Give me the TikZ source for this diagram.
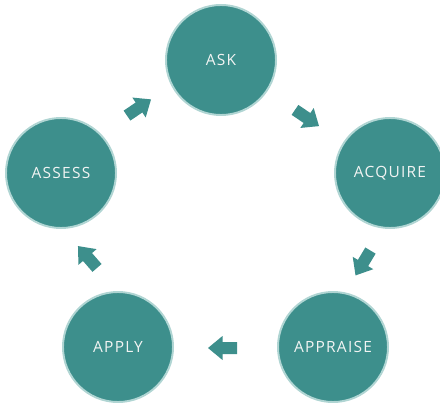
\documentclass[tikz,border=0pt]{standalone}
\usepackage{fontspec}
\setmainfont{Open Sans}[LetterSpace=8]
\usepackage{tikz}
\usetikzlibrary{positioning}
\definecolor{cycleteal}{HTML}{3D8F8C}
\definecolor{cyclerim}{HTML}{B0D5D3}
\definecolor{cycletext}{HTML}{F2F4F3}

\tikzset{
  stage/.style={circle, fill=cycleteal, draw=cyclerim, line width=1.4pt,
    minimum size=2.75cm, inner sep=0pt, text=cycletext,
    font=\fontsize{11}{13}\selectfont},
  cyclearrow/.pic={
    \fill[cycleteal] (-14.5,-6) -- (0,-6) -- (0,-12) -- (14.5,0)
      -- (0,12) -- (0,6) -- (-14.5,6) -- cycle;
  }
}

\begin{document}
\begin{tikzpicture}[x=0.025cm, y=0.025cm]
\useasboundingbox (0,0) rectangle (440,402);

% Stages of the cycle
\node[stage] (ask) at (221, 342) {ASK};
\node[stage] (acquire) at (390, 229) {ACQUIRE};
\node[stage] (appraise) at (333, 55) {APPRAISE};
\node[stage] (apply) at (118, 55) {APPLY};
\node[stage] (assess) at (61, 229) {ASSESS};

% Block arrows between stages
\pic[rotate=-34] at (307, 284) {cyclearrow};
\pic[rotate=-121] at (363, 139) {cyclearrow};
\pic[rotate=180] at (222.5, 54) {cyclearrow};
\pic[rotate=131] at (87.5, 145) {cyclearrow};
\pic[rotate=34] at (139, 294.5) {cyclearrow};

\end{tikzpicture}
\end{document}
